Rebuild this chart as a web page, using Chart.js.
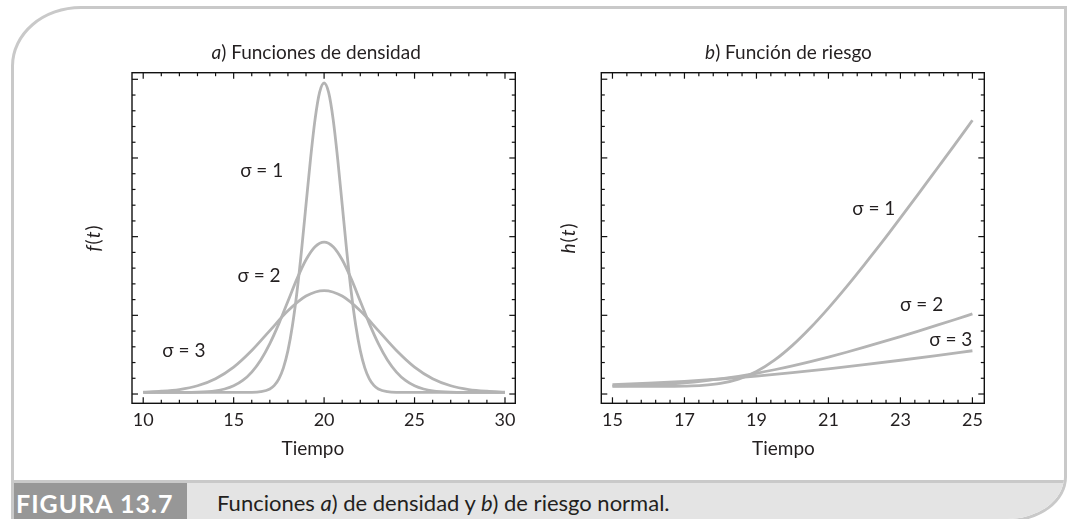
<!DOCTYPE html>
<html lang="es">
<head>
<meta charset="utf-8">
<script src="https://cdn.jsdelivr.net/npm/chart.js@4.4.1/dist/chart.umd.min.js"></script>
<style>
  html, body { margin: 0; padding: 0; }
  body { width: 1067px; height: 519px; position: relative; overflow: hidden; background: #fff;
         font-family: Lato, "Open Sans", sans-serif; color: #231f20; }
  .frame { position: absolute; left: 11px; top: 6px; width: 1056px; height: 516px; box-sizing: border-box;
           border: 3px solid #c9c9c9; border-top-left-radius: 70px 60px; border-bottom-right-radius: 60px 45px;
           overflow: hidden; }
  .caption { position: absolute; left: 0; right: 0; top: 471px; bottom: 0; background: #e4e4e4;
             border-top: 3px solid #c9c9c9; }
  .fig { position: absolute; left: 0; top: 0; width: 173px; height: 40px; background: #979797; color: #fff;
         font-size: 25px; font-weight: bold; line-height: 40px; padding-left: 2px; box-sizing: border-box; letter-spacing: 1px; }
  .cap { position: absolute; left: 203px; top: 0; font-size: 22px; line-height: 40px; }
  canvas { position: absolute; top: 0; }
  #cA { left: 40px; }
  #cB { left: 520px; }
</style>
</head>
<body>
<div class="frame">
  <div class="caption">
    <div class="fig">FIGURA 13.7</div>
    <div class="cap">Funciones <i>a</i>) de densidad y <i>b</i>) de riesgo normal.</div>
  </div>
</div>
<canvas id="cA" width="500" height="480"></canvas>
<canvas id="cB" width="500" height="480"></canvas>
<script>
// a) densidades normales, media 20
const densT1 = [10, 12, 14, 15, 16, 16.5, 17, 17.25, 17.5, 17.75, 18, 18.25, 18.5, 18.75, 19, 19.25, 19.5, 19.75, 20,
  20.25, 20.5, 20.75, 21, 21.25, 21.5, 21.75, 22, 22.25, 22.5, 22.75, 23, 23.5, 24, 25, 26, 28, 30];
const densS1 = [0.002, 0.002, 0.002, 0.002, 0.0021, 0.0029, 0.0064, 0.0110, 0.0193, 0.0333, 0.0552, 0.0871, 0.1297, 0.1820, 0.2406, 0.2989, 0.3491, 0.3833, 0.3953,
  0.3833, 0.3491, 0.2989, 0.2406, 0.1820, 0.1297, 0.0871, 0.0552, 0.0333, 0.0193, 0.0110, 0.0064, 0.0029, 0.0021, 0.002, 0.002, 0.002, 0.002];
const densT2 = [10, 12, 13, 14, 14.5, 15, 15.5, 16, 16.5, 17, 17.5, 18, 18.5, 19, 19.5, 20,
  20.5, 21, 21.5, 22, 22.5, 23, 23.5, 24, 24.5, 25, 25.5, 26, 27, 28, 30];
const densS2 = [0.002, 0.0021, 0.0024, 0.0041, 0.0064, 0.0104, 0.0172, 0.0279, 0.0433, 0.0641, 0.0895, 0.1179, 0.1463, 0.1706, 0.1872, 0.1931,
  0.1872, 0.1706, 0.1463, 0.1179, 0.0895, 0.0641, 0.0433, 0.0279, 0.0172, 0.0104, 0.0064, 0.0041, 0.0024, 0.0021, 0.002];
const densT3 = [10, 11, 12, 13, 14, 15, 16, 17, 18, 19, 20, 21, 22, 23, 24, 25, 26, 27, 28, 29, 30];
const densS3 = [0.0025, 0.0035, 0.0057, 0.0105, 0.0195, 0.0342, 0.0553, 0.0806, 0.1057, 0.1245, 0.1315,
  0.1245, 0.1057, 0.0806, 0.0553, 0.0342, 0.0195, 0.0105, 0.0057, 0.0035, 0.0025];

// b) funciones de riesgo
const hazT = [15, 15.5, 16, 16.5, 17, 17.5, 18, 18.5, 19, 19.5, 20, 20.5, 21, 21.5, 22, 22.5, 23, 23.5, 24, 24.5, 25];
const hazS1 = [0, 0, 0.0001, 0.0009, 0.0044, 0.0176, 0.0553, 0.1388, 0.2876, 0.5092, 0.7979, 1.1411, 1.5251, 1.9387, 2.3732, 2.8183, 3.2831, 3.7522, 4.2256, 4.70, 5.1865];
const hazS2 = [0.0088, 0.0160, 0.0276, 0.0450, 0.0694, 0.1021, 0.1438, 0.1947, 0.2546, 0.3229, 0.3989, 0.4818, 0.5706, 0.6644, 0.7626, 0.8646, 0.9694, 1.0769, 1.1866, 1.2983, 1.4115];
const hazT3 = [15, 16, 17, 18, 19, 20, 21, 22, 23, 24, 25];
const hazS3 = [0.0348, 0.0602, 0.0959, 0.1424, 0.1995, 0.2660, 0.3406, 0.4217, 0.5084, 0.5994, 0.6932];

// ticks
const densXTicks = [10, 15, 20, 25, 30];
const densYTicks = [0, 0.1, 0.2, 0.3, 0.4];
const hazXTicks = [15, 17, 19, 21, 23, 25];
const hazYTicks = [-0.15, 1.384, 2.918, 4.452, 5.986];

// sigma labels [x, y, text]
const densLabels = [[16.55, 0.284, 'σ = 1'], [16.4, 0.1506, 'σ = 2'], [12.25, 0.0543, 'σ = 3']];
const hazLabels = [[22.26, 3.464, 'σ = 1'], [23.59, 1.585, 'σ = 2'], [24.4, 0.903, 'σ = 3']];

const curveColor = '#b4b4b4';
const ink = '#231f20';
const fontFam = 'Lato, "Open Sans", "DejaVu Sans", sans-serif';

function subdivide(majors, n) {
  const out = [];
  for (let i = 0; i < majors.length - 1; i++) {
    const step = (majors[i + 1] - majors[i]) / n;
    for (let k = 1; k < n; k++) out.push(majors[i] + k * step);
  }
  return out;
}

const axisFrame = {
  id: 'axisFrame',
  afterDatasetsDraw(chart, args, o) {
    const {ctx, chartArea: a, scales: {x, y}} = chart;
    ctx.save();
    ctx.strokeStyle = '#111';
    ctx.lineWidth = 1.4;
    ctx.strokeRect(a.left, a.top, a.right - a.left, a.bottom - a.top);
    ctx.lineWidth = 1.2;
    const seg = (x1, y1, x2, y2) => { ctx.beginPath(); ctx.moveTo(x1, y1); ctx.lineTo(x2, y2); ctx.stroke(); };
    const xs = (vals, len) => vals.forEach(v => {
      const p = x.getPixelForValue(v);
      seg(p, a.bottom, p, a.bottom - len); seg(p, a.top, p, a.top + len);
    });
    const ys = (vals, len) => vals.forEach(v => {
      const p = y.getPixelForValue(v);
      seg(a.left, p, a.left + len, p); seg(a.right, p, a.right - len, p);
    });
    xs(o.xMajor, 6); xs(o.xMinor, 3.5);
    ys(o.yMajor, 6); ys(o.yMinor, 3.5);
    ctx.restore();
  }
};

const figText = {
  id: 'figText',
  afterDraw(chart, args, o) {
    const {ctx, chartArea: a, scales: {x, y}} = chart;
    ctx.save();
    ctx.fillStyle = ink;
    ctx.textBaseline = 'alphabetic';
    // title: italic letter + rest
    const f = (style, size) => `${style} ${size}px ${fontFam}`;
    ctx.font = f('italic', 19);
    const w1 = ctx.measureText(o.title[0]).width;
    ctx.font = f('normal', 19);
    const w2 = ctx.measureText(o.title[1]).width;
    let tx = x.getPixelForValue(o.titleX) - (w1 + w2) / 2;
    ctx.textAlign = 'left';
    ctx.font = f('italic', 19); ctx.fillText(o.title[0], tx, a.top - 13.5);
    ctx.font = f('normal', 19); ctx.fillText(o.title[1], tx + w1, a.top - 13.5);
    // axis label rotated: f(t) / h(t)
    ctx.save();
    ctx.translate(a.left - o.yLabGap, (a.top + a.bottom) / 2);
    ctx.rotate(-Math.PI / 2);
    const parts = [[o.yLab, 'italic'], ['(', 'normal'], ['t', 'italic'], [')', 'normal']];
    let tot = 0;
    parts.forEach(p => { ctx.font = f(p[1], 19); tot += ctx.measureText(p[0]).width + 1; });
    let px = -tot / 2;
    ctx.textBaseline = 'middle';
    parts.forEach(p => { ctx.font = f(p[1], 19); ctx.fillText(p[0], px, 0); px += ctx.measureText(p[0]).width + 1; });
    ctx.restore();
    // sigma labels
    ctx.textAlign = 'center';
    ctx.textBaseline = 'middle';
    ctx.font = f('normal', 19);
    o.labels.forEach(l => ctx.fillText(l[2], x.getPixelForValue(l[0]), y.getPixelForValue(l[1])));
    // x title
    ctx.font = f('normal', 19);
    ctx.fillText('Tiempo', x.getPixelForValue(o.xTitleX), a.bottom + 45.7);
    ctx.restore();
  }
};

function line(t, v) {
  return {
    data: t.map((tt, i) => ({x: tt, y: v[i]})),
    borderColor: curveColor, borderWidth: 2.8, pointRadius: 0,
    cubicInterpolationMode: 'monotone', fill: false
  };
}

function makeChart(id, c) {
  return new Chart(document.getElementById(id), {
    type: 'line',
    data: {datasets: c.datasets},
    options: {
      responsive: false,
      animation: false,
      layout: {padding: {top: 72.7, right: c.padRight, left: 0, bottom: 0}},
      plugins: {
        legend: {display: false},
        tooltip: {enabled: false},
        axisFrame: {xMajor: c.xTicks, xMinor: c.xMinor, yMajor: c.yTicks, yMinor: subdivide(c.yTicks, 5)},
        figText: {title: c.title, titleX: c.titleX, yLab: c.yLab, yLabGap: c.yLabGap, labels: c.labels, xTitleX: c.xTitleX}
      },
      scales: {
        x: {
          type: 'linear', min: c.xMin, max: c.xMax,
          grid: {display: false, drawTicks: false}, border: {display: false},
          ticks: {color: ink, font: {family: fontFam, size: 18}, padding: 6.5, maxRotation: 0, autoSkip: false},
          afterBuildTicks: s => { s.ticks = c.xTicks.map(v => ({value: v})); },
          afterFit: s => { s.height = 480 - 403.3; }
        },
        y: {
          min: c.yMin, max: c.yMax,
          grid: {display: false}, border: {display: false}, ticks: {display: false},
          afterFit: s => { s.width = c.yWidth; }
        }
      }
    },
    plugins: [axisFrame, figText]
  });
}

makeChart('cA', {
  datasets: [line(densT1, densS1), line(densT2, densS2), line(densT3, densS3)],
  xMin: 9.38, xMax: 30.57, yMin: -0.0118, yMax: 0.4084,
  xTicks: densXTicks, xMinor: [11, 12, 13, 14, 16, 17, 18, 19, 21, 22, 23, 24, 26, 27, 28, 29],
  yTicks: densYTicks, yWidth: 92, padRight: 24.7,
  title: ['a', ') Funciones de densidad'], titleX: 19.56, yLab: 'f', yLabGap: 38, labels: densLabels, xTitleX: 19.38
});

makeChart('cB', {
  datasets: [line(hazT, hazS1), line(hazT, hazS2), line(hazT3, hazS3)],
  xMin: 14.69, xMax: 25.33, yMin: -0.331, yMax: 6.113,
  xTicks: hazXTicks, xMinor: subdivide(hazXTicks, 5),
  yTicks: hazYTicks, yWidth: 81.3, padRight: 35.7,
  title: ['b', ') Función de riesgo'], titleX: 19.89, yLab: 'h', yLabGap: 32, labels: hazLabels, xTitleX: 19.75
});
</script>
</body>
</html>
